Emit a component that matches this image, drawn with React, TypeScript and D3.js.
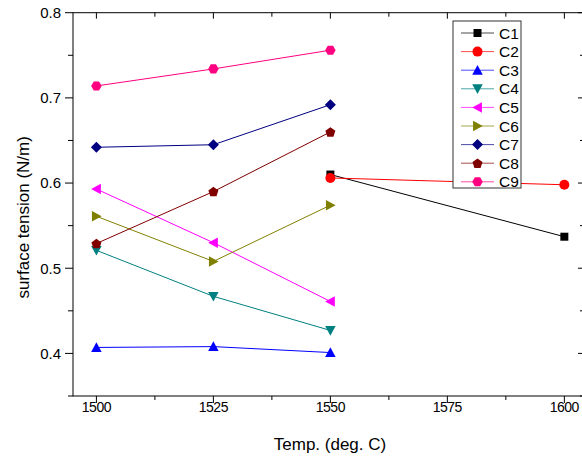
import React from "react";
import * as d3 from "d3";

const seriesNames = ["C1", "C2", "C3", "C4", "C5", "C6", "C7", "C8", "C9"];
const colors = ["#000000", "#FF0000", "#0000FF", "#008080", "#FF00FF", "#808000", "#000080", "#800000", "#FF0080"];
const markers = ["square", "circle", "triUp", "triDown", "triLeft", "triRight", "diamond", "pentagon", "hexagon"];

const tempsC12 = [1550, 1600];
const tempsOthers = [1500, 1525, 1550];

const c1 = [0.610, 0.537];
const c2 = [0.606, 0.598];
const c3 = [0.407, 0.408, 0.401];
const c4 = [0.521, 0.467, 0.427];
const c5 = [0.593, 0.530, 0.461];
const c6 = [0.561, 0.508, 0.574];
const c7 = [0.642, 0.645, 0.692];
const c8 = [0.529, 0.590, 0.660];
const c9 = [0.714, 0.734, 0.756];

const seriesValues = [c1, c2, c3, c4, c5, c6, c7, c8, c9];
const seriesTemps = [tempsC12, tempsC12, tempsOthers, tempsOthers, tempsOthers, tempsOthers, tempsOthers, tempsOthers, tempsOthers];

const xTicks = [1500, 1525, 1550, 1575, 1600];
const xMinor = [1512.5, 1537.5, 1562.5, 1587.5];
const yTicks = [0.4, 0.5, 0.6, 0.7, 0.8];
const yMinor = [0.35, 0.45, 0.55, 0.65, 0.75];

const W = 582, H = 459;
const left = 73, right = 584, top = 12.7, bottom = 396;

function markerPath(type: string, s: number): string {
  const r = s / 2;
  const poly = (pts: [number, number][]) => "M" + pts.map(p => p.join(",")).join("L") + "Z";
  switch (type) {
    case "square": return poly([[-4, -4], [4, -4], [4, 4], [-4, 4]]);
    case "triUp": return poly([[0, -r], [r, r * 0.85], [-r, r * 0.85]]);
    case "triDown": return poly([[0, r], [r, -r * 0.85], [-r, -r * 0.85]]);
    case "triLeft": return poly([[-r, 0], [r * 0.85, -r], [r * 0.85, r]]);
    case "triRight": return poly([[r, 0], [-r * 0.85, -r], [-r * 0.85, r]]);
    case "diamond": return poly([[0, -r * 1.05], [r * 1.05, 0], [0, r * 1.05], [-r * 1.05, 0]]);
    case "pentagon": {
      const pts: [number, number][] = [];
      for (let i = 0; i < 5; i++) { const a = -Math.PI / 2 + i * 2 * Math.PI / 5; pts.push([r * Math.cos(a), r * Math.sin(a) + 0.5]); }
      return poly(pts);
    }
    case "hexagon": {
      const pts: [number, number][] = [];
      for (let i = 0; i < 6; i++) { const a = i * Math.PI / 3; pts.push([r * Math.cos(a), r * Math.sin(a)]); }
      return poly(pts);
    }
    default: return "";
  }
}

function Marker({ type, x, y, color }: { type: string; x: number; y: number; color: string }) {
  if (type === "circle") return <circle cx={x} cy={y} r={5} fill={color} />;
  return <path d={markerPath(type, 10.5)} transform={`translate(${x},${y})`} fill={color} />;
}

export default function App() {
  const x = d3.scaleLinear().domain([1495, 1604.2]).range([left, right]);
  const y = d3.scaleLinear().domain([0.35, 0.8]).range([bottom, top]);
  const line = d3.line<[number, number]>().x(d => x(d[0])).y(d => y(d[1]));
  const font = "'Liberation Sans', Arial, sans-serif";

  const legX = 453, legY = 21, legW = 68, legH = 167, rowH = 18.6;

  return (
    <div style={{ position: "fixed", left: 0, top: 0 }}>
      <svg width={W} height={H} style={{ display: "block", background: "#fff" }} fontFamily={font}>
        <rect x={0} y={0} width={W} height={H} fill="#fff" />
        <rect x={left} y={top} width={right - left} height={bottom - top} fill="none" stroke="#000" strokeWidth={1} />
        {xTicks.map(t => (
          <g key={"xt" + t}>
            <line x1={x(t)} x2={x(t)} y1={bottom} y2={bottom + 7} stroke="#000" />
            <line x1={x(t)} x2={x(t)} y1={top} y2={top + 6} stroke="#000" />
            <text x={x(t)} y={412} fontSize={14} textAnchor="middle" letterSpacing={-0.5}>{t}</text>
          </g>
        ))}
        {xMinor.map(t => (
          <g key={"xm" + t}>
            <line x1={x(t)} x2={x(t)} y1={bottom} y2={bottom + 4} stroke="#000" />
            <line x1={x(t)} x2={x(t)} y1={top} y2={top + 4} stroke="#000" />
          </g>
        ))}
        {yTicks.map(t => (
          <g key={"yt" + t}>
            <line x1={left - 8} x2={left} y1={y(t)} y2={y(t)} stroke="#000" />
            <line x1={right - 6} x2={right} y1={y(t)} y2={y(t)} stroke="#000" />
            <text x={61} y={y(t) + 5.3} fontSize={15} textAnchor="end">{t.toFixed(1)}</text>
          </g>
        ))}
        {yMinor.map(t => (
          <g key={"ym" + t}>
            <line x1={left - 5} x2={left} y1={y(t)} y2={y(t)} stroke="#000" />
            <line x1={right - 4} x2={right} y1={y(t)} y2={y(t)} stroke="#000" />
          </g>
        ))}
        <text x={330} y={450} fontSize={17} textAnchor="middle">Temp. (deg. C)</text>
        <text transform={`translate(29,${(top + bottom) / 2 + 13}) rotate(-90)`} fontSize={17} textAnchor="middle">surface tension (N/m)</text>
        {seriesValues.map((vals, i) => {
          const pts: [number, number][] = vals.map((v, j) => [seriesTemps[i][j], v]);
          return (
            <g key={seriesNames[i]}>
              <path d={line(pts) || ""} fill="none" stroke={colors[i]} strokeWidth={1} />
              {pts.map((p, j) => <Marker key={j} type={markers[i]} x={x(p[0])} y={y(p[1])} color={colors[i]} />)}
            </g>
          );
        })}
        <rect x={legX} y={legY} width={legW} height={legH} fill="#fff" stroke="#333" strokeWidth={1} />
        {seriesNames.map((n, i) => {
          const cy = legY + 12 + i * rowH;
          return (
            <g key={"leg" + n}>
              <line x1={461} x2={494} y1={cy} y2={cy} stroke={colors[i]} strokeWidth={1} opacity={0.7} />
              <Marker type={markers[i]} x={477.5} y={cy} color={colors[i]} />
              <text x={499} y={cy + 5.5} fontSize={15.5}>{n}</text>
            </g>
          );
        })}
      </svg>
    </div>
  );
}
